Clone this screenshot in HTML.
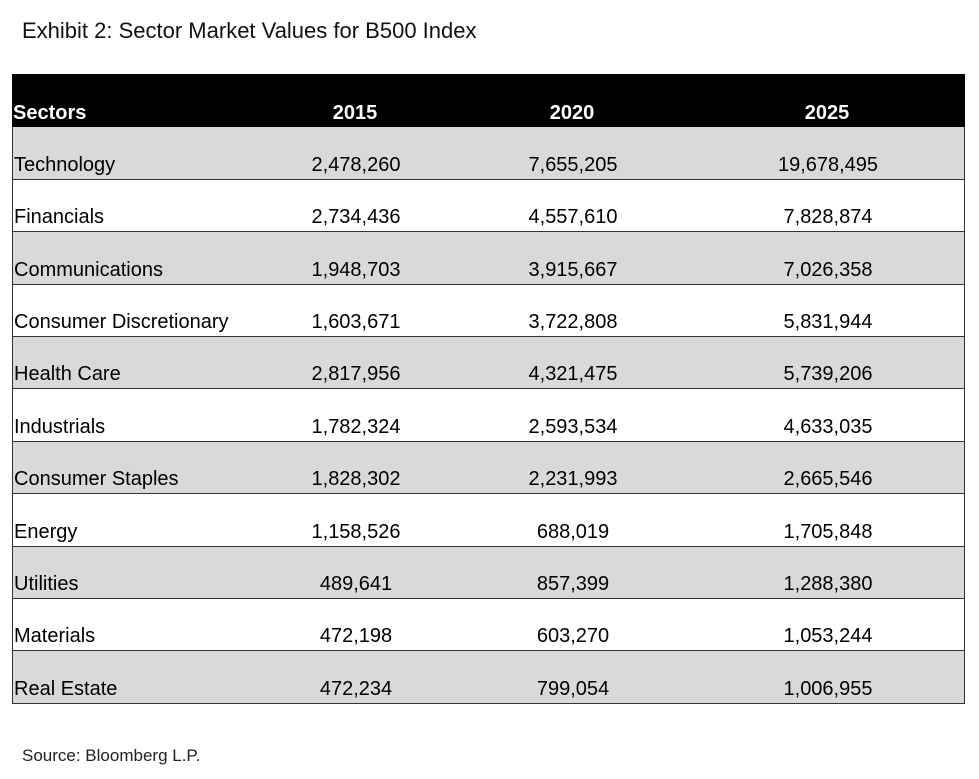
<!DOCTYPE html>
<html><head><style>
body{margin:0;width:979px;height:779px;background:#fff;font-family:"Liberation Sans",sans-serif;position:relative;overflow:hidden}
.t{position:absolute;left:22px;top:18px;font-size:22px;color:#111}
.s{position:absolute;left:22px;top:746px;font-size:17px;color:#222}
.r{position:absolute;left:12px;width:953px;border-left:1px solid #333;border-right:1px solid #333;border-bottom:1px solid #333;box-sizing:border-box;font-size:20px;color:#000}
.r span{position:absolute;bottom:2px;white-space:nowrap}
.r .a{left:1px}
.r .c1{left:343px;transform:translateX(-50%)}
.r .c2{left:560px;transform:translateX(-50%)}
.r .c3{left:815px;transform:translateX(-50%)}
.h{background:#000;color:#fff;font-weight:bold;border:none}
.g{background:#d9d9d9}
</style></head><body>
<div class="t">Exhibit 2: Sector Market Values for B500 Index</div>
<div class="r h" style="top:74px;height:53px"><span class="a">Sectors</span><span class="c1">2015</span><span class="c2">2020</span><span class="c3">2025</span></div>
<div class="r g" style="top:127px;height:53px"><span class="a">Technology</span><span class="c1">2,478,260</span><span class="c2">7,655,205</span><span class="c3">19,678,495</span></div>
<div class="r" style="top:180px;height:52px"><span class="a">Financials</span><span class="c1">2,734,436</span><span class="c2">4,557,610</span><span class="c3">7,828,874</span></div>
<div class="r g" style="top:232px;height:53px"><span class="a">Communications</span><span class="c1">1,948,703</span><span class="c2">3,915,667</span><span class="c3">7,026,358</span></div>
<div class="r" style="top:285px;height:52px"><span class="a">Consumer Discretionary</span><span class="c1">1,603,671</span><span class="c2">3,722,808</span><span class="c3">5,831,944</span></div>
<div class="r g" style="top:337px;height:52px"><span class="a">Health Care</span><span class="c1">2,817,956</span><span class="c2">4,321,475</span><span class="c3">5,739,206</span></div>
<div class="r" style="top:389px;height:53px"><span class="a">Industrials</span><span class="c1">1,782,324</span><span class="c2">2,593,534</span><span class="c3">4,633,035</span></div>
<div class="r g" style="top:442px;height:52px"><span class="a">Consumer Staples</span><span class="c1">1,828,302</span><span class="c2">2,231,993</span><span class="c3">2,665,546</span></div>
<div class="r" style="top:494px;height:53px"><span class="a">Energy</span><span class="c1">1,158,526</span><span class="c2">688,019</span><span class="c3">1,705,848</span></div>
<div class="r g" style="top:547px;height:52px"><span class="a">Utilities</span><span class="c1">489,641</span><span class="c2">857,399</span><span class="c3">1,288,380</span></div>
<div class="r" style="top:599px;height:52px"><span class="a">Materials</span><span class="c1">472,198</span><span class="c2">603,270</span><span class="c3">1,053,244</span></div>
<div class="r g" style="top:651px;height:53px"><span class="a">Real Estate</span><span class="c1">472,234</span><span class="c2">799,054</span><span class="c3">1,006,955</span></div>
<div class="s">Source: Bloomberg L.P.</div>
</body></html>
